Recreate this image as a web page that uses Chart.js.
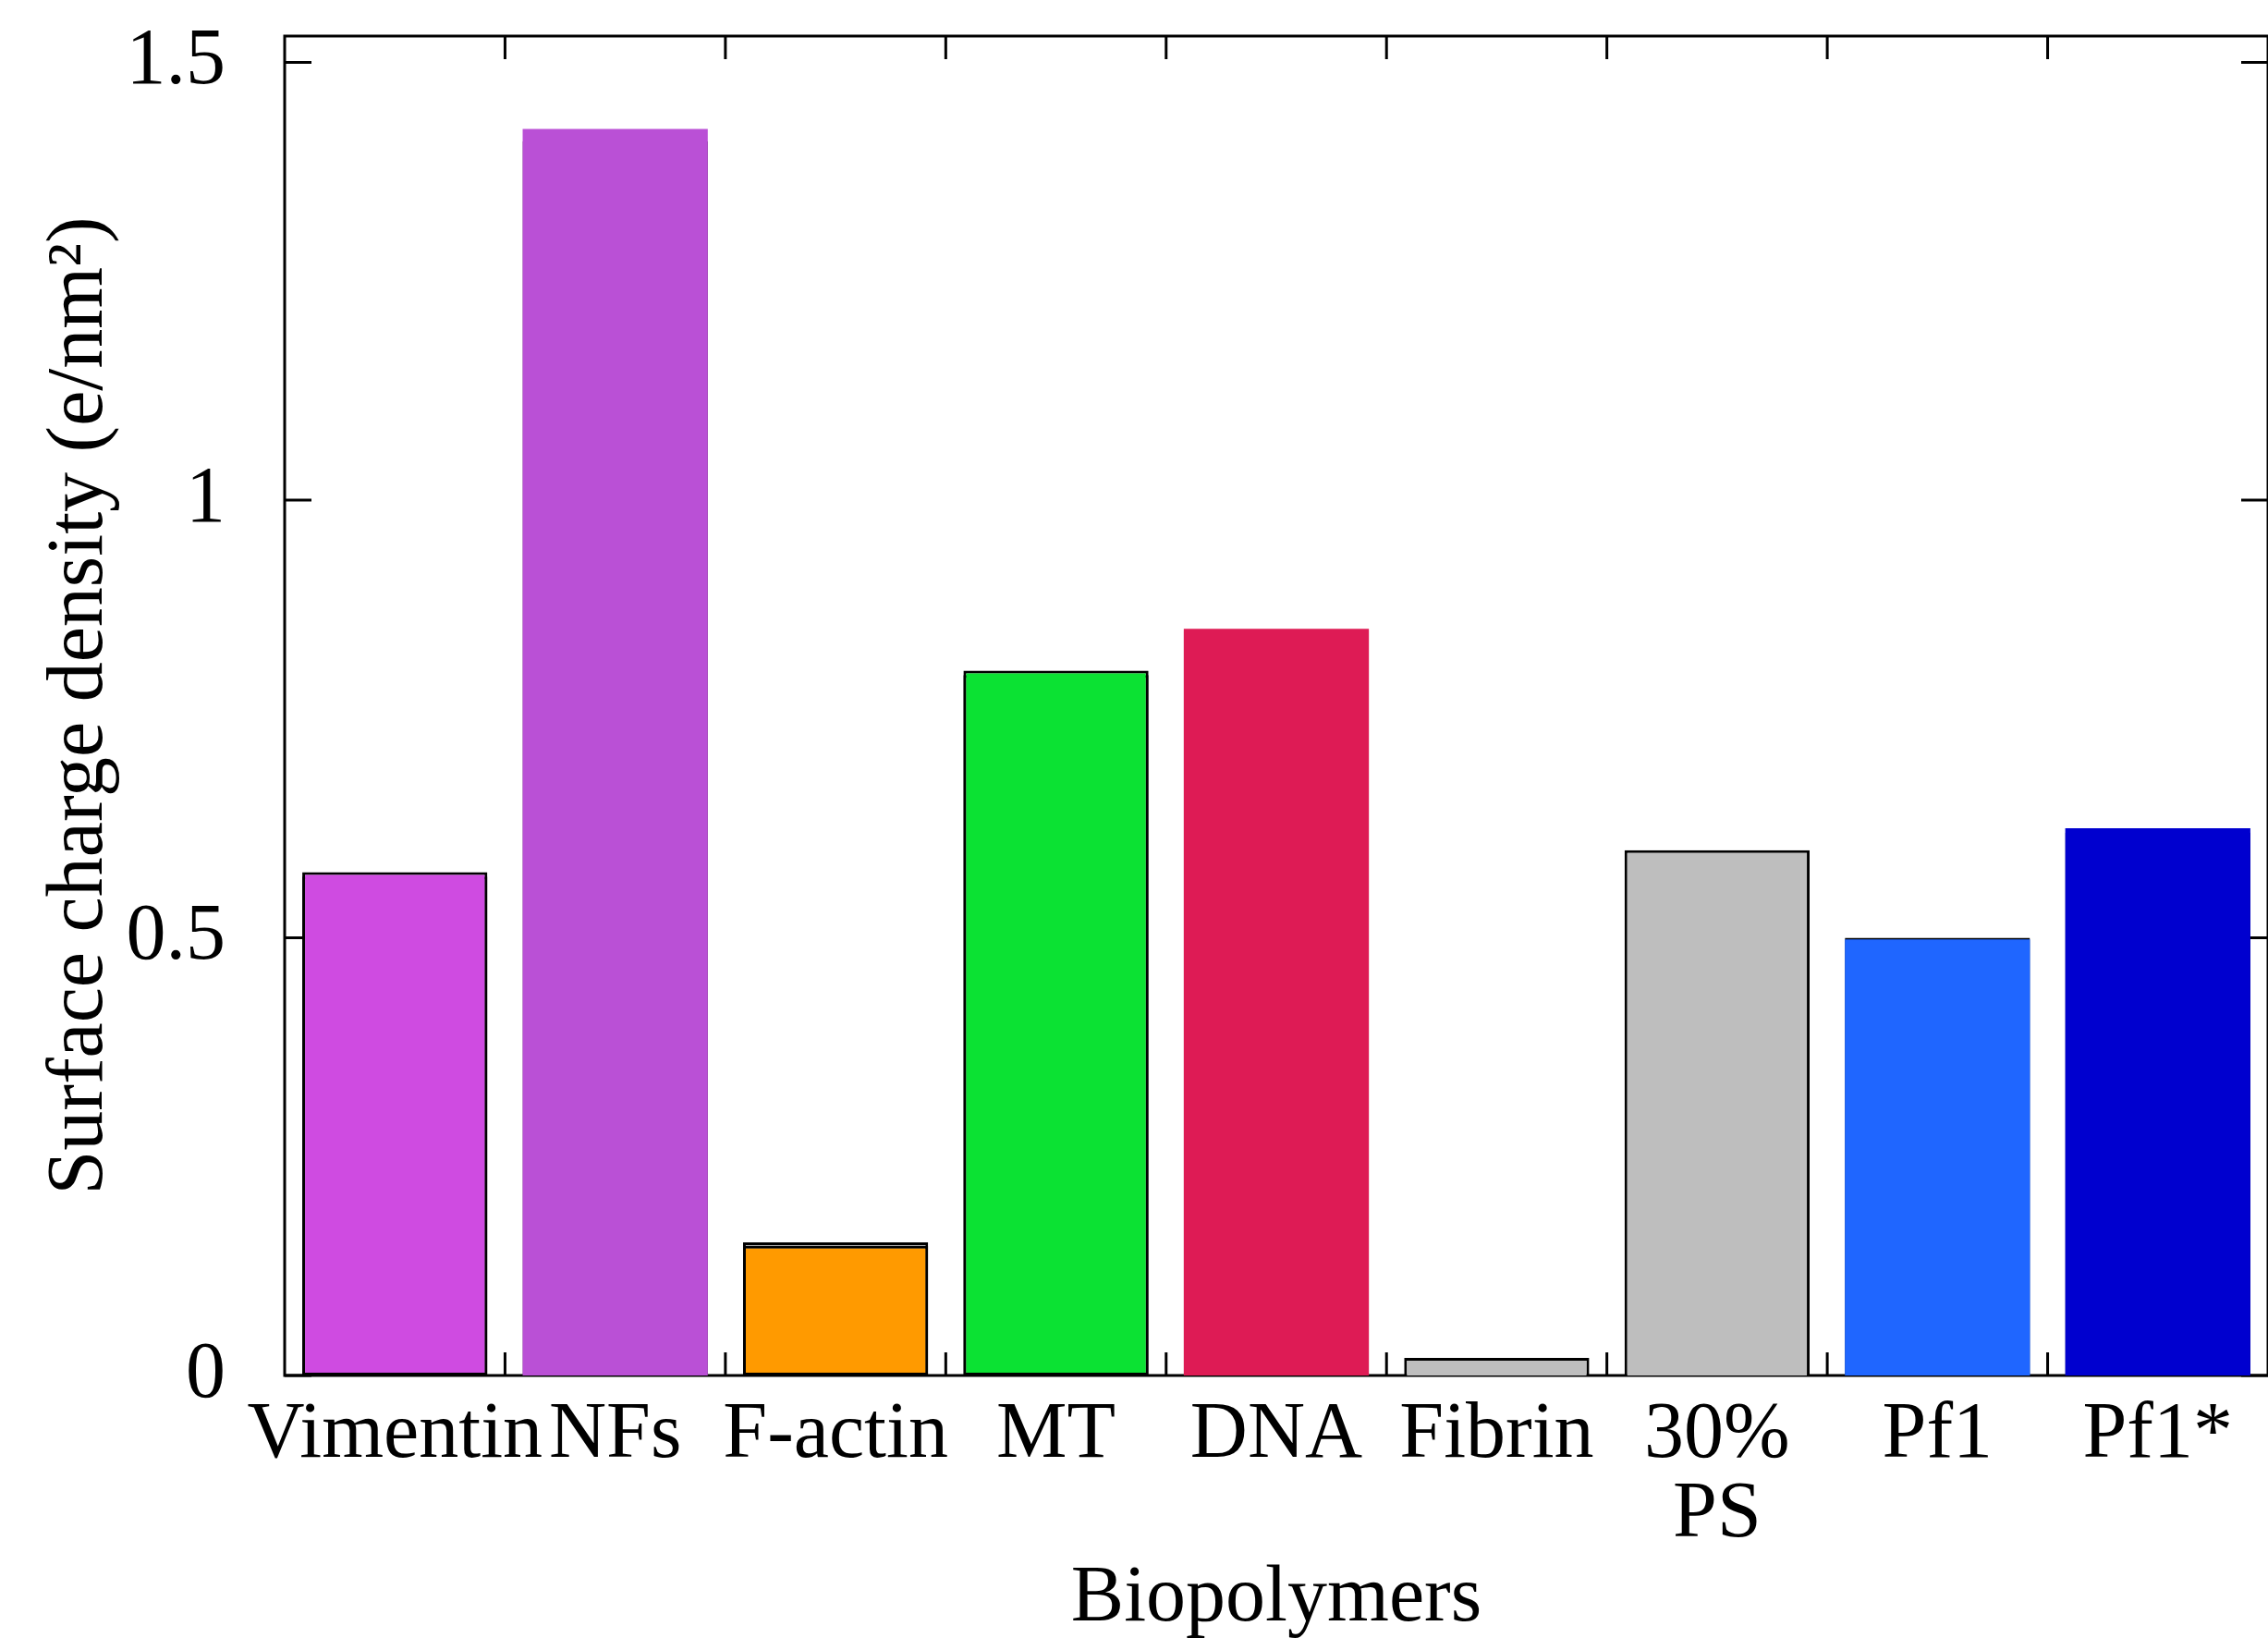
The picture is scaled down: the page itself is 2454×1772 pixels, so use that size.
<!DOCTYPE html>
<html>
<head>
<meta charset="utf-8">
<script src="https://cdn.jsdelivr.net/npm/chart.js@4"></script>
<style>
  body { margin: 0; background: #fff; }
  canvas { display: block; }
</style>
</head>
<body>
<canvas id="myChart" width="2454" height="1772"></canvas>
<script>
const labels = ["Vimentin", "NFs", "F-actin", "MT", "DNA", "Fibrin", ["30%", "PS"], "Pf1", "Pf1*"];
// colored bars laid over the grey ones (null = only the grey bar shows)
const coloredValues = [0.575, 1.424, 0.148, 0.805, 0.853, null, null, 0.498, 0.625];
const greyValues = [0.57, 1.41, 0.152, 0.80, 0.85, 0.02, 0.60, 0.50, 0.62];
const barColors = ["#CF4BE1", "#BA50D6", "#FF9A00", "#0BE233", "#DE1B55", "#BEBEBE", "#BEBEBE", "#1F66FF", "#0000CF"];
const borderWidths = [3, 0, 3, 3, 0, 0, 0, 0, 0];
const yTicks = [0, 0.5, 1, 1.5];

const font = "'Liberation Serif', 'Times New Roman', serif";

// gnuplot style box with inward ticks
const framePlugin = {
    id: "frame",
    beforeDatasetsDraw(chart) {
        const ctx = chart.ctx;
        const a = chart.chartArea;
        const x = chart.scales.x;
        const y = chart.scales.y;
        ctx.save();
        ctx.strokeStyle = "#000";
        ctx.lineWidth = 3;
        ctx.strokeRect(a.left, a.top, a.right - a.left, a.bottom - a.top);
        ctx.beginPath();
        yTicks.forEach((v) => {
            const py = y.getPixelForValue(v);
            ctx.moveTo(a.left, py);
            ctx.lineTo(a.left + 29, py);
            ctx.moveTo(a.right, py);
            ctx.lineTo(a.right - 29, py);
        });
        for (var i = 1; i < labels.length; i++) {
            const px = (x.getPixelForValue(i - 1) + x.getPixelForValue(i)) / 2;
            ctx.moveTo(px, a.bottom);
            ctx.lineTo(px, a.bottom - 25);
            ctx.moveTo(px, a.top);
            ctx.lineTo(px, a.top + 25);
        }
        ctx.stroke();
        ctx.restore();
    }
};

plotChart = () => {
    const ctx = document.getElementById("myChart").getContext("2d");

    new Chart(ctx, {
        type: "bar",
        data: {
            labels: labels,
            datasets: [
                {
                    data: coloredValues,
                    backgroundColor: barColors,
                    borderColor: "#000",
                    borderWidth: borderWidths,
                    borderSkipped: false,
                    grouped: false,
                    order: 0,
                    barPercentage: 0.84,
                    categoryPercentage: 1
                },
                {
                    data: greyValues,
                    backgroundColor: "#BEBEBE",
                    borderColor: "#000",
                    borderWidth: 3,
                    borderSkipped: "bottom",
                    grouped: false,
                    order: 1,
                    barPercentage: 0.84,
                    categoryPercentage: 1
                }
            ]
        },
        options: {
            responsive: false,
            animation: false,
            devicePixelRatio: 1,
            layout: { padding: { top: 39, left: 0, right: 0, bottom: 0 } },
            plugins: {
                legend: { display: false },
                tooltip: { enabled: false }
            },
            scales: {
                x: {
                    grid: { display: false },
                    border: { display: false },
                    ticks: {
                        color: "#000",
                        font: { family: font, size: 86, lineHeight: 1.0 },
                        padding: 14,
                        maxRotation: 0,
                        autoSkip: false
                    },
                    title: {
                        display: true,
                        text: "Biopolymers",
                        color: "#000",
                        font: { family: font, size: 86 },
                        padding: { top: 0, bottom: -10 }
                    },
                    afterFit: (scale) => {
                        scale.height = 284;
                        scale.paddingLeft = 0;
                        scale.paddingRight = 0;
                    }
                },
                y: {
                    min: 0,
                    max: 1.53,
                    grid: { display: false },
                    border: { display: false },
                    ticks: {
                        stepSize: 0.5,
                        includeBounds: false,
                        color: "#000",
                        font: { family: font, size: 86 },
                        padding: 56,
                        callback: (v) => String(v)
                    },
                    title: {
                        display: true,
                        text: "Surface charge density (e/nm\u00B2)",
                        color: "#000",
                        font: { family: font, size: 86 },
                        padding: { top: 36, bottom: 0 }
                    },
                    afterFit: (scale) => {
                        scale.width = 308;
                        scale.paddingTop = 0;
                        scale.paddingBottom = 0;
                    }
                }
            }
        },
        plugins: [framePlugin]
    });
};

plotChart();
</script>
</body>
</html>
